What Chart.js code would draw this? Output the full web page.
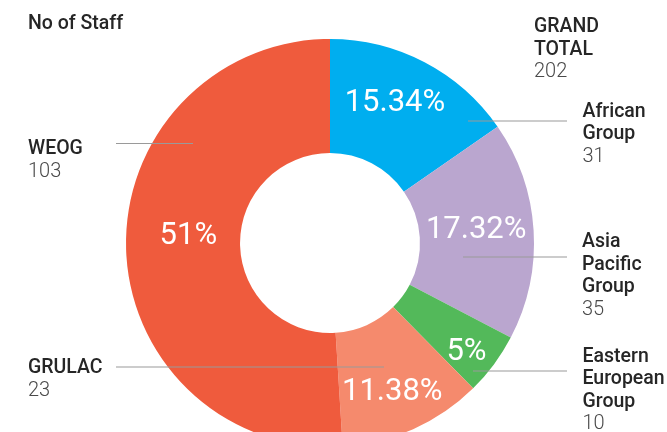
<!DOCTYPE html>
<html>
<head>
<meta charset="utf-8">
<script src="https://cdn.jsdelivr.net/npm/chart.js@4/dist/chart.umd.min.js"></script>
<style>
  html, body { margin: 0; padding: 0; background: #fff; overflow: hidden; width: 667px; height: 432px; }
  #wrap { position: absolute; left: 0; top: 0; width: 667px; height: 486px; }
</style>
</head>
<body>
<div id="wrap"><canvas id="c" width="667" height="486"></canvas></div>
<script>
// ---- data ----
const categories = ['African Group', 'Asia Pacific Group', 'Eastern European Group', 'GRULAC', 'WEOG'];
const categoryLines = [['African', 'Group'], ['Asia', 'Pacific', 'Group'], ['Eastern', 'European', 'Group'], ['GRULAC'], ['WEOG']];
const staffCounts = [31, 35, 10, 23, 103];
const percentLabels = ['15.34%', '17.32%', '5%', '11.38%', '51%'];
const grandTotalLines = ['GRAND', 'TOTAL'];
const grandTotal = 202;
const chartTitle = 'No of Staff';

// ---- styles ----
const colors = ['#00AEEF', '#BAA6CF', '#53B95A', '#F58A6D', '#EF5B3D'];
const FONT = 'Roboto, "Noto Sans", sans-serif';

// placement of in-ring percentage text (angle tweak in degrees, radius in px)
const pctPlacement = {
  dAngle: [-3.2, -2.5, 1.4, 1.0, 5.8],
  radius: [157, 147, 173, 159, 142]
};
// side callouts: text anchor and leader line
const callouts = [
  { x: 582.5, y: 116.7, line: [468, 567, 121] },
  { x: 582, y: 247.3, line: [463, 567, 257] },
  { x: 582.5, y: 361.7, line: [473, 567, 371] },
  { x: 28, y: 373.3, line: [116, 384, 367] },
  { x: 28, y: 154, line: [116, 193, 143.5] }
];

const overlay = {
  id: 'overlay',
  afterDatasetsDraw(chart) {
    const ctx = chart.ctx;
    const meta = chart.getDatasetMeta(0);
    ctx.save();
    // percentages
    ctx.fillStyle = '#ffffff';
    ctx.font = '400 31px ' + FONT;
    ctx.textAlign = 'center';
    ctx.textBaseline = 'alphabetic';
    meta.data.forEach((arc, i) => {
      const p = arc.getProps(['x', 'y', 'startAngle', 'endAngle'], true);
      const a = (p.startAngle + p.endAngle) / 2 + pctPlacement.dAngle[i] * Math.PI / 180;
      const r = pctPlacement.radius[i];
      const cx = p.x + Math.cos(a) * r;
      const cy = p.y + Math.sin(a) * r;
      ctx.fillText(percentLabels[i], cx, cy + 11);
    });
    // leader lines
    ctx.strokeStyle = '#9a9a9a';
    ctx.lineWidth = 1.2;
    callouts.forEach(c => {
      ctx.beginPath();
      ctx.moveTo(c.line[0], c.line[2]);
      ctx.lineTo(c.line[1], c.line[2]);
      ctx.stroke();
    });
    // callout texts
    ctx.textAlign = 'left';
    const lh = 22.5;
    callouts.forEach((c, i) => {
      ctx.fillStyle = '#262626';
      ctx.font = '500 19.5px ' + FONT;
      const lines = categoryLines[i];
      lines.forEach((t, k) => ctx.fillText(t, c.x, c.y + k * lh));
      ctx.fillStyle = '#4a4a4a';
      ctx.font = '300 20px ' + FONT;
      ctx.fillText(String(staffCounts[i]), c.x, c.y + lines.length * lh);
    });
    // grand total
    ctx.fillStyle = '#262626';
    ctx.font = '500 19.5px ' + FONT;
    grandTotalLines.forEach((t, k) => ctx.fillText(t, 534, 32.3 + k * lh));
    ctx.fillStyle = '#4a4a4a';
    ctx.font = '300 20px ' + FONT;
    ctx.fillText(String(grandTotal), 534, 32.3 + grandTotalLines.length * lh);
    // title
    ctx.fillStyle = '#262626';
    ctx.font = '500 19.5px ' + FONT;
    ctx.fillText(chartTitle, 28, 29);
    ctx.restore();
  }
};

new Chart(document.getElementById('c'), {
  type: 'doughnut',
  data: {
    labels: categories,
    datasets: [{
      data: staffCounts,
      backgroundColor: colors,
      borderWidth: 0,
      hoverOffset: 0
    }]
  },
  options: {
    responsive: false,
    animation: false,
    devicePixelRatio: 1,
    radius: 204,
    cutout: '44.1%',
    layout: { padding: { left: 0, right: 7, top: 0, bottom: 0 } },
    plugins: { legend: { display: false }, tooltip: { enabled: false }, title: { display: false } },
    events: []
  },
  plugins: [overlay]
});
</script>
</body>
</html>
